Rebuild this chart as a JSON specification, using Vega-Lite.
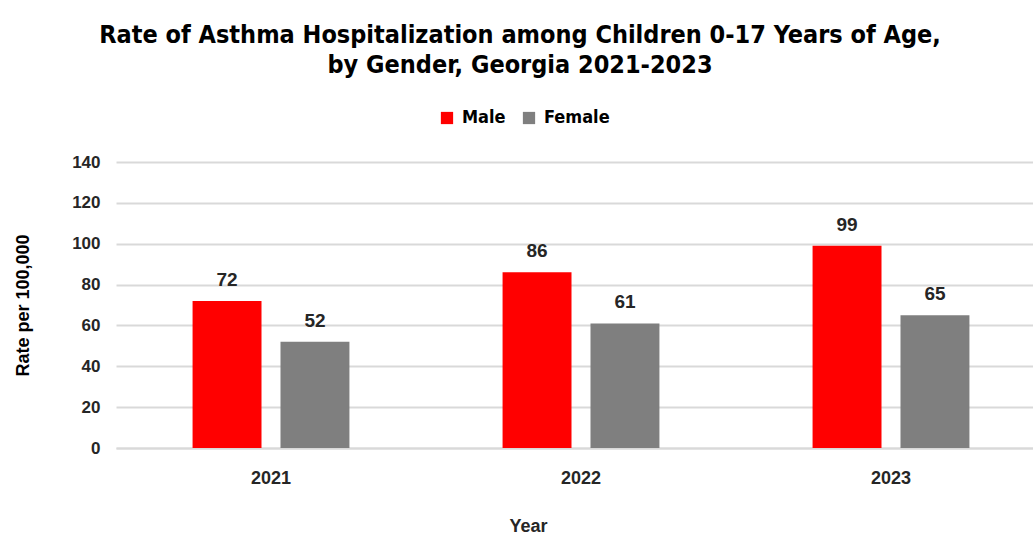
{
  "$schema": "https://vega.github.io/schema/vega-lite/v6.json",
  "width": 930,
  "height": 286,
  "autosize": {"type": "none"},
  "padding": {"left": 116, "top": 162, "right": 0, "bottom": 86},
  "background": "white",
  "title": {
    "text": ["Rate of Asthma Hospitalization among Children 0-17 Years of Age,", "by Gender, Georgia 2021-2023"],
    "font": "DejaVu Sans Condensed",
    "fontSize": 25,
    "fontWeight": "bold",
    "color": "#000000",
    "lineHeight": 30,
    "anchor": "middle",
    "frame": "group",
    "dx": -61,
    "offset": 31
  },
  "data": {
    "values": [
      {"Year": "2021", "Gender": "Male", "Rate": 72},
      {"Year": "2021", "Gender": "Female", "Rate": 52},
      {"Year": "2022", "Gender": "Male", "Rate": 86},
      {"Year": "2022", "Gender": "Female", "Rate": 61},
      {"Year": "2023", "Gender": "Male", "Rate": 99},
      {"Year": "2023", "Gender": "Female", "Rate": 65}
    ]
  },
  "encoding": {
    "x": {
      "field": "Year", "type": "nominal",
      "scale": {"paddingInner": 0.494, "paddingOuter": 0.247},
      "axis": {
        "title": "Year", "labelAngle": 0, "domain": true, "domainColor": "#d9d9d9", "domainWidth": 2,
        "ticks": false, "labelFont": "Liberation Sans", "labelFontSize": 18, "labelFontWeight": "bold",
        "labelColor": "#262626", "labelPadding": 21, "titleFont": "Liberation Sans", "titleFontSize": 18,
        "titleFontWeight": "bold", "titleColor": "#262626", "titlePadding": 30, "titleX": 412
      }
    },
    "xOffset": {"field": "Gender", "type": "nominal", "sort": ["Male", "Female"], "scale": {"paddingInner": 0.216, "paddingOuter": 0}},
    "y": {
      "field": "Rate", "type": "quantitative",
      "scale": {"domain": [0, 140]},
      "axis": {
        "title": "Rate per 100,000", "values": [0, 20, 40, 60, 80, 100, 120, 140], "domain": false, "ticks": false,
        "grid": true, "gridColor": "#d9d9d9", "gridWidth": 2, "labelFont": "Liberation Sans", "labelFontSize": 17,
        "labelFontWeight": "bold", "labelColor": "#262626", "labelPadding": 16, "titleFont": "Liberation Sans",
        "titleFontSize": 18, "titleFontWeight": "bold", "titleColor": "#000000", "titlePadding": 39
      }
    },
    "color": {
      "field": "Gender", "type": "nominal", "sort": ["Male", "Female"],
      "scale": {"domain": ["Male", "Female"], "range": ["#ff0000", "#7f7f7f"]},
      "legend": {
        "title": null, "orient": "none", "direction": "horizontal", "legendX": 322, "legendY": -53,
        "symbolType": "square", "symbolSize": 150, "symbolStrokeWidth": 0, "labelFont": "DejaVu Sans Condensed",
        "labelFontSize": 18, "labelFontWeight": "bold", "labelColor": "#000000", "columnPadding": 14, "labelOffset": 6
      }
    }
  },
  "layer": [
    {"mark": {"type": "bar"}},
    {
      "mark": {"type": "text", "dy": -21, "font": "Liberation Sans", "fontSize": 19, "fontWeight": "bold", "color": "#262626"},
      "encoding": {"text": {"field": "Rate", "type": "quantitative"}, "color": {"value": "#262626"}}
    }
  ],
  "config": {"view": {"stroke": null}}
}
